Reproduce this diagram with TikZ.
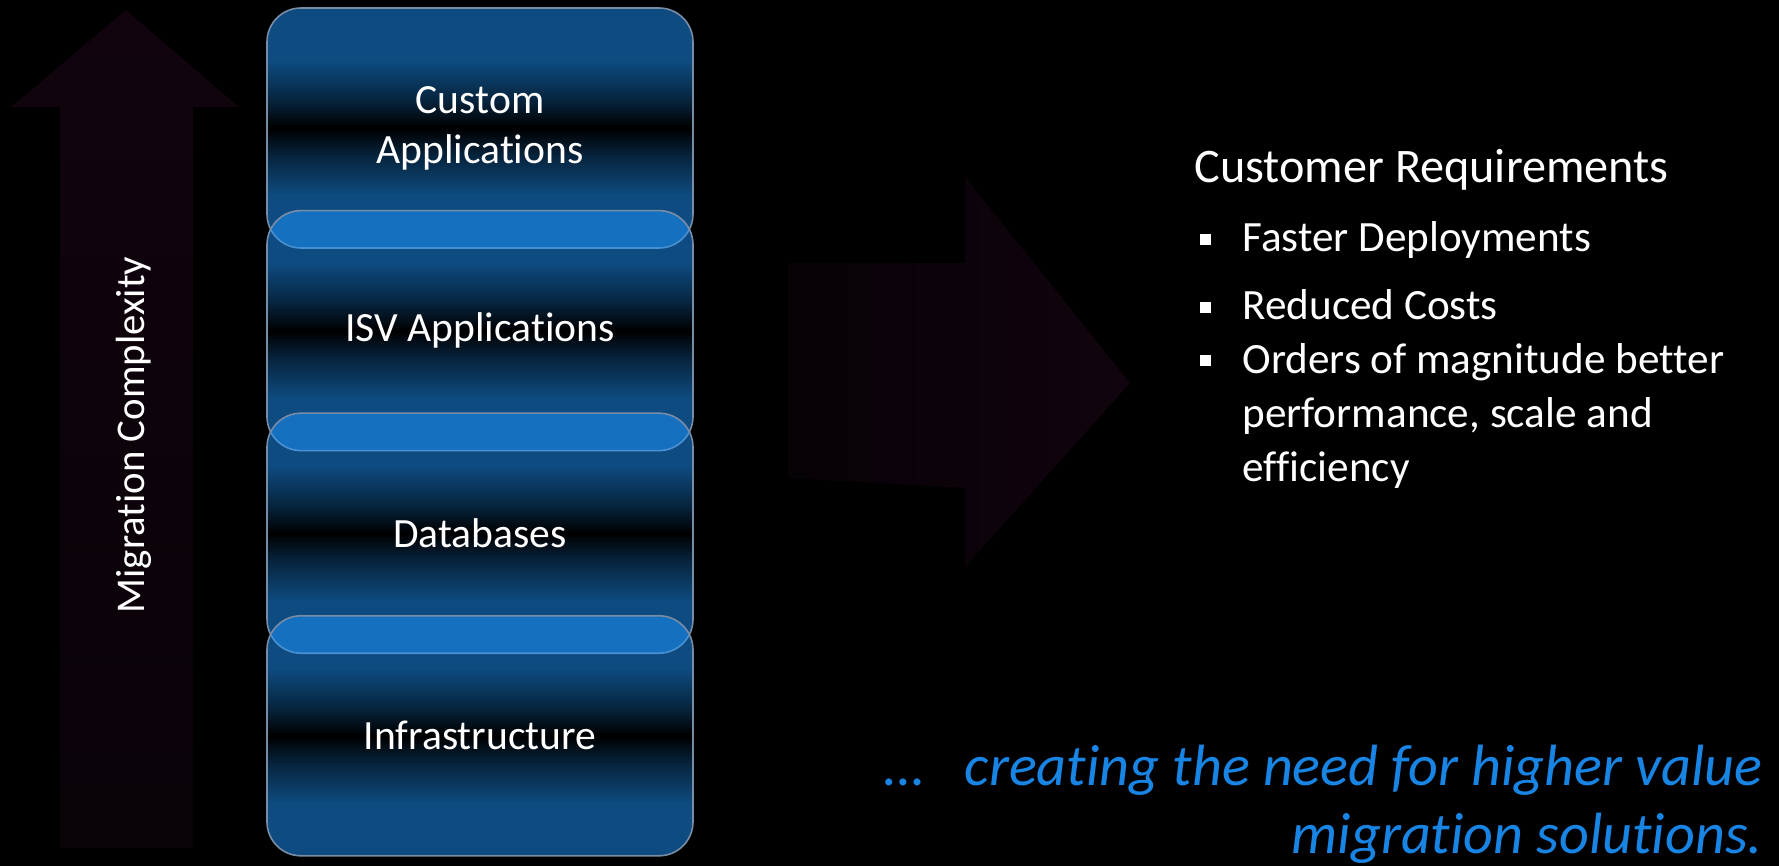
\documentclass[tikz,border=0pt]{standalone}
\usepackage{fontspec}
\setmainfont{Carlito}[Ligatures=CommonOff]
\usepackage{tikz}
\usetikzlibrary{chains,positioning}

\definecolor{layerblue}{RGB}{28,150,255}
\definecolor{layeredge}{RGB}{120,140,165}
\definecolor{arrowdark}{RGB}{17,4,14}
\definecolor{slogan}{RGB}{24,132,228}

\pgfdeclareverticalshading{layershade}{100bp}{
  color(0bp)=(layerblue); color(25bp)=(layerblue); color(36bp)=(layerblue);
  color(44bp)=(layerblue!50!black); color(50bp)=(black);
  color(56bp)=(layerblue!50!black); color(64bp)=(layerblue);
  color(75bp)=(layerblue); color(100bp)=(layerblue)}

\begin{document}
\begin{tikzpicture}[
x=0.5pt, y=-0.5pt,
layer/.style={
  draw=layeredge,
  line width=0.8pt,
  shading=layershade,
  fill opacity=0.5,
  text opacity=1,
  rounded corners=17pt,
  minimum width=213pt,
  minimum height=120pt,
  text=white,
  align=center,
  font=\fontsize{20.8}{25}\selectfont
  },
reqtext/.style={
  text=white,
  anchor=base west,
  align=left,
  inner sep=0pt,
  font=\fontsize{21.6}{27}\selectfont
  },
bulletsq/.style={fill=white, inner sep=0pt, minimum size=5.5pt},
start chain=going below,
node distance=-19.5pt
]
\useasboundingbox[fill=black] (0,0) rectangle (1779,866);
% arrows
\fill[top color=arrowdark, bottom color=arrowdark!50!black]
  (60,848) -- (60,107) -- (11,107) -- (126,10) -- (239,107) -- (193,107) -- (193,848) -- cycle;
\fill[left color=arrowdark!40!black, right color=arrowdark]
  (788,263) -- (965,263) -- (965,177) -- (1130,383) -- (965,567) -- (965,488) -- (788,478) -- cycle;
\node[rotate=90, text=white, font=\fontsize{20.4}{24}\selectfont] (complexity) at (134,435) {Migration Complexity};
% stack
\node[layer,on chain] (cust) at (480,128) {Custom\\Applications};
\foreach \Name/\Text in {isv/ISV Applications, db/Databases, infra/Infrastructure}
  \node[layer,on chain] (\Name) {\Text};
% requirements
\node[reqtext, font=\fontsize{24.1}{28}\selectfont] (reqhead) at (1194,183) {Customer Requirements};
\foreach \y/\b/\Text [count=\i] in {252/252/Faster Deployments, 320/320/Reduced Costs, 481/373/{Orders of magnitude better\\performance, scale and\\efficiency}} {
  \node[reqtext] (req\i) at (1242,\y) {\Text};
  \node[bulletsq] (dot\i) at (1205,\b-12) {};
}
\node[anchor=base east, align=right, inner sep=0pt, text=slogan,
  font=\itshape\fontsize{29.1}{34}\selectfont] (slogan) at (1763,853)
  {…\hspace{20pt}creating the need for higher value\\migration solutions.};
\end{tikzpicture}
\end{document}
